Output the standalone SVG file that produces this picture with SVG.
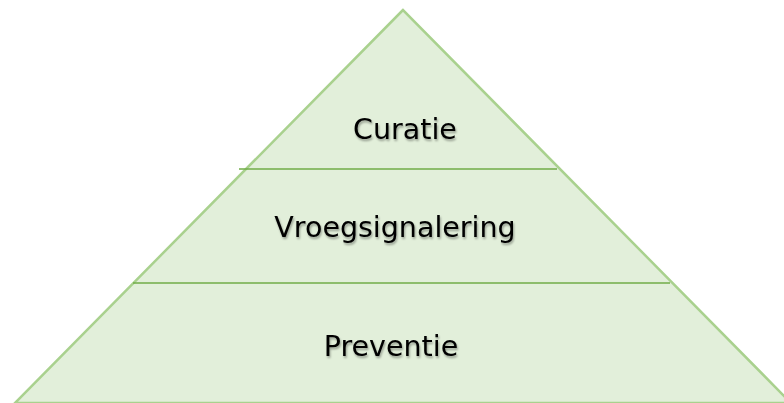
<svg xmlns="http://www.w3.org/2000/svg" width="784" height="403" viewBox="0 0 784 403">
<style>
.lbl{font-family:"DejaVu Sans",Verdana,sans-serif;font-size:28.5px;fill:#000;text-anchor:middle}
.div{stroke:#70AD47;stroke-width:1.5;fill:none}
</style>
<defs>
<filter id="sh" x="-10%" y="-20%" width="120%" height="150%">
<feGaussianBlur in="SourceAlpha" stdDeviation="1"/>
<feOffset dx="1" dy="1.5" result="b"/>
<feComponentTransfer><feFuncA type="linear" slope="0.35"/></feComponentTransfer>
<feMerge><feMergeNode/><feMergeNode in="SourceGraphic"/></feMerge>
</filter>
</defs>
<g id="pyramid">
<polygon points="403,10 15,403 791,403" fill="#E2EFDA" stroke="#A9D18E" stroke-width="2.5"/>
</g>
<g id="connectors">
<line class="div" x1="239" y1="169" x2="557" y2="169"/>
<line class="div" x1="133" y1="283" x2="670" y2="283"/>
</g>
<g id="curatie"><text class="lbl" x="405" y="139" filter="url(#sh)">Curatie</text></g>
<g id="vroegsignalering"><text class="lbl" x="395" y="237" filter="url(#sh)">Vroegsignalering</text></g>
<g id="preventie"><text class="lbl" x="391" y="356" filter="url(#sh)">Preventie</text></g>
</svg>
